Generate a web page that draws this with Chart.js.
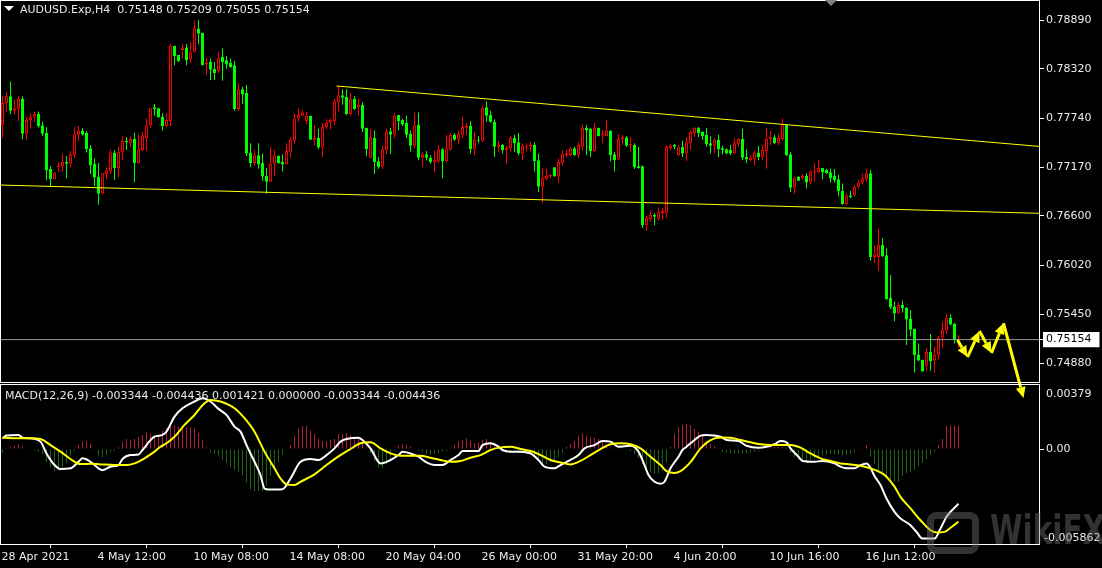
<!DOCTYPE html>
<html>
<head>
<meta charset="utf-8">
<title>AUDUSD.Exp H4</title>
<script src="https://cdn.jsdelivr.net/npm/chart.js@4.4.1/dist/chart.umd.min.js"></script>
<style>
  html, body { margin: 0; padding: 0; background: #000; }
  body { position: relative; width: 1102px; height: 568px; overflow: hidden; font-family: "DejaVu Sans", sans-serif; }
  canvas { position: absolute; left: 0; }
  #priceChart { top: 0; }
  #macdChart { top: 384px; }
  .txt { position: absolute; color: #e8e8e8; font-size: 11px; line-height: 13px; white-space: pre; z-index: 3; }
  #symbolArrow { position: absolute; left: 4px; top: 6px; width: 0; height: 0; border-left: 5px solid transparent; border-right: 5px solid transparent; border-top: 5px solid #fff; z-index: 3; }
  #shiftMark { position: absolute; left: 825px; top: 0; width: 0; height: 0; border-left: 6px solid transparent; border-right: 6px solid transparent; border-top: 6px solid #808080; z-index: 3; }
  #wmLogo { position: absolute; left: 927px; top: 512px; width: 38px; height: 28px; border: 7px solid rgba(120,120,120,0.42); border-radius: 9px; z-index: 2; }
  #wmText { position: absolute; left: 990px; top: 506px; font: bold 41px "DejaVu Sans", sans-serif; color: rgba(120,120,120,0.42); transform: scaleX(0.72); transform-origin: left top; white-space: pre; z-index: 2; }
</style>
</head>
<body>
<canvas id="priceChart" width="1102" height="410"></canvas>
<canvas id="macdChart" width="1102" height="184"></canvas>
<div id="symbolArrow"></div>
<div class="txt" id="title" style="left:20px; top:3px;"></div>
<div class="txt" id="macdTitle" style="left:5px; top:389px;"></div>
<div id="shiftMark"></div>
<div id="wmLogo"></div>
<div id="wmText">WikiFX</div>
<script>
// ---- data ----
const symbolName = 'AUDUSD.Exp,H4';
const lastQuote = ['0.75148', '0.75209', '0.75055', '0.75154'];   // O H L C of current bar
const macdInfo = ['-0.003344', '-0.004436', '0.001421', '0.000000', '-0.003344', '-0.004436'];

const timeLabels = ['28 Apr 2021', '4 May 12:00', '10 May 08:00', '14 May 08:00', '20 May 04:00',
  '26 May 00:00', '31 May 20:00', '4 Jun 20:00', '10 Jun 16:00', '16 Jun 12:00'];
const timeLabelBars = [0, 24, 48, 72, 96, 120, 144, 168, 192, 216];

const priceTicks = [0.78890, 0.78320, 0.77740, 0.77170, 0.76600, 0.76020, 0.75450, 0.74880];
const lastPrice = 0.75154;
const macdTopLabel = '0.00379';
const macdBottomLabel = '-0.005862';

// [open, high, low, close] per H4 bar
const ohlc = [
  [0.7766,0.7800,0.7751,0.7792],[0.7792,0.7805,0.7782,0.7800],[0.7800,0.7817,0.7779,0.7783],[0.7783,0.7796,0.7779,0.7786],[0.7785,0.7800,0.7771,0.7797],
  [0.7797,0.7800,0.7750,0.7756],[0.7756,0.7776,0.7749,0.7772],[0.7772,0.7780,0.7762,0.7776],[0.7776,0.7782,0.7770,0.7779],[0.7779,0.7782,0.7763,0.7765],
  [0.7766,0.7770,0.7753,0.7756],[0.7757,0.7764,0.7702,0.7713],[0.7715,0.7718,0.7694,0.7703],[0.7703,0.7711,0.7703,0.7711],[0.7717,0.7723,0.7711,0.7719],
  [0.7718,0.7732,0.7712,0.7723],[0.7723,0.7730,0.7704,0.7721],[0.7721,0.7736,0.7717,0.7732],[0.7731,0.7764,0.7728,0.7756],[0.7755,0.7765,0.7748,0.7760],
  [0.7760,0.7763,0.7754,0.7755],[0.7757,0.7759,0.7734,0.7738],[0.7739,0.7743,0.7709,0.7719],[0.7721,0.7727,0.7695,0.7705],[0.7706,0.7722,0.7673,0.7686],
  [0.7686,0.7710,0.7686,0.7710],[0.7709,0.7717,0.7703,0.7713],[0.7712,0.7737,0.7709,0.7734],[0.7734,0.7737,0.7702,0.7716],[0.7716,0.7741,0.7705,0.7735],
  [0.7734,0.7753,0.7725,0.7748],[0.7748,0.7752,0.7737,0.7746],[0.7745,0.7753,0.7741,0.7750],[0.7750,0.7757,0.7699,0.7722],[0.7722,0.7755,0.7721,0.7738],
  [0.7737,0.7758,0.7736,0.7754],[0.7751,0.7774,0.7736,0.7766],[0.7766,0.7786,0.7763,0.7786],[0.7787,0.7791,0.7777,0.7785],[0.7786,0.7786,0.7775,0.7775],
  [0.7776,0.7780,0.7760,0.7765],[0.7765,0.7780,0.7764,0.7772],[0.7771,0.7861,0.7765,0.7859],[0.7859,0.7859,0.7836,0.7847],[0.7848,0.7848,0.7840,0.7841],
  [0.7854,0.7861,0.7844,0.7857],[0.7857,0.7861,0.7836,0.7842],[0.7843,0.7863,0.7839,0.7851],[0.7852,0.7888,0.7851,0.7880],[0.7879,0.7889,0.7861,0.7873],
  [0.7874,0.7874,0.7836,0.7836],[0.7837,0.7845,0.7825,0.7839],[0.7840,0.7844,0.7819,0.7831],[0.7832,0.7840,0.7819,0.7827],[0.7829,0.7852,0.7827,0.7845],
  [0.7846,0.7856,0.7818,0.7840],[0.7842,0.7847,0.7832,0.7837],[0.7839,0.7844,0.7833,0.7834],[0.7836,0.7841,0.7783,0.7785],[0.7785,0.7815,0.7783,0.7808],
  [0.7808,0.7811,0.7791,0.7802],[0.7804,0.7813,0.7730,0.7733],[0.7734,0.7745,0.7717,0.7722],[0.7722,0.7737,0.7719,0.7731],[0.7731,0.7745,0.7715,0.7720],
  [0.7722,0.7733,0.7701,0.7706],[0.7707,0.7716,0.7686,0.7700],[0.7700,0.7741,0.7700,0.7721],[0.7721,0.7737,0.7706,0.7731],[0.7730,0.7731,0.7721,0.7722],
  [0.7723,0.7732,0.7712,0.7720],[0.7720,0.7745,0.7720,0.7736],[0.7735,0.7752,0.7728,0.7749],[0.7748,0.7780,0.7744,0.7774],[0.7774,0.7786,0.7770,0.7778],
  [0.7777,0.7783,0.7777,0.7781],[0.7771,0.7782,0.7767,0.7777],[0.7777,0.7777,0.7749,0.7749],[0.7749,0.7766,0.7743,0.7751],[0.7751,0.7762,0.7738,0.7740],
  [0.7740,0.7769,0.7729,0.7764],[0.7764,0.7773,0.7761,0.7769],[0.7769,0.7774,0.7761,0.7772],[0.7771,0.7796,0.7766,0.7794],[0.7793,0.7812,0.7782,0.7801],
  [0.7801,0.7808,0.7790,0.7798],[0.7799,0.7808,0.7778,0.7779],[0.7779,0.7804,0.7777,0.7797],[0.7797,0.7800,0.7784,0.7785],[0.7787,0.7797,0.7777,0.7790],
  [0.7790,0.7793,0.7758,0.7762],[0.7763,0.7763,0.7730,0.7738],[0.7728,0.7762,0.7727,0.7752],[0.7751,0.7760,0.7709,0.7723],[0.7724,0.7729,0.7715,0.7717],
  [0.7718,0.7742,0.7715,0.7738],[0.7737,0.7762,0.7732,0.7759],[0.7759,0.7763,0.7732,0.7755],[0.7755,0.7780,0.7751,0.7777],[0.7778,0.7778,0.7760,0.7771],
  [0.7772,0.7774,0.7765,0.7767],[0.7769,0.7777,0.7751,0.7755],[0.7756,0.7760,0.7735,0.7742],[0.7742,0.7781,0.7739,0.7766],[0.7767,0.7781,0.7725,0.7728],
  [0.7728,0.7735,0.7717,0.7732],[0.7732,0.7736,0.7725,0.7728],[0.7728,0.7731,0.7721,0.7723],[0.7723,0.7736,0.7711,0.7725],[0.7724,0.7743,0.7722,0.7738],
  [0.7738,0.7739,0.7704,0.7724],[0.7724,0.7755,0.7723,0.7739],[0.7738,0.7757,0.7736,0.7755],[0.7755,0.7757,0.7748,0.7749],[0.7749,0.7760,0.7744,0.7756],
  [0.7755,0.7776,0.7751,0.7764],[0.7763,0.7769,0.7755,0.7765],[0.7765,0.7771,0.7733,0.7738],[0.7738,0.7758,0.7731,0.7749],[0.7749,0.7753,0.7745,0.7748],
  [0.7748,0.7789,0.7746,0.7786],[0.7787,0.7794,0.7770,0.7777],[0.7778,0.7783,0.7769,0.7770],[0.7770,0.7773,0.7729,0.7741],[0.7741,0.7748,0.7735,0.7743],
  [0.7743,0.7744,0.7733,0.7737],[0.7737,0.7742,0.7721,0.7739],[0.7739,0.7753,0.7735,0.7751],[0.7751,0.7755,0.7735,0.7745],[0.7746,0.7757,0.7731,0.7733],
  [0.7733,0.7745,0.7725,0.7742],[0.7741,0.7745,0.7735,0.7742],[0.7741,0.7746,0.7735,0.7743],[0.7743,0.7746,0.7712,0.7724],[0.7725,0.7733,0.7688,0.7694],
  [0.7694,0.7715,0.7675,0.7704],[0.7703,0.7715,0.7702,0.7707],[0.7706,0.7708,0.7704,0.7708],[0.7717,0.7717,0.7706,0.7706],[0.7706,0.7727,0.7699,0.7723],
  [0.7722,0.7737,0.7719,0.7732],[0.7731,0.7737,0.7728,0.7733],[0.7731,0.7741,0.7730,0.7739],[0.7739,0.7741,0.7730,0.7731],[0.7731,0.7746,0.7728,0.7743],
  [0.7741,0.7767,0.7736,0.7763],[0.7763,0.7766,0.7731,0.7760],[0.7762,0.7763,0.7729,0.7736],[0.7736,0.7769,0.7735,0.7763],[0.7763,0.7763,0.7753,0.7753],
  [0.7755,0.7760,0.7745,0.7756],[0.7753,0.7772,0.7753,0.7760],[0.7760,0.7760,0.7724,0.7731],[0.7732,0.7735,0.7712,0.7725],[0.7726,0.7755,0.7725,0.7750],
  [0.7750,0.7755,0.7743,0.7752],[0.7752,0.7753,0.7741,0.7742],[0.7743,0.7752,0.7735,0.7744],[0.7743,0.7745,0.7715,0.7717],[0.7718,0.7741,0.7715,0.7716],
  [0.7718,0.7719,0.7646,0.7649],[0.7649,0.7660,0.7643,0.7658],[0.7656,0.7666,0.7653,0.7661],[0.7661,0.7663,0.7649,0.7659],[0.7656,0.7670,0.7655,0.7665],
  [0.7663,0.7669,0.7655,0.7666],[0.7663,0.7743,0.7658,0.7741],[0.7739,0.7744,0.7737,0.7742],[0.7743,0.7744,0.7738,0.7741],[0.7731,0.7743,0.7730,0.7741],
  [0.7741,0.7748,0.7729,0.7733],[0.7733,0.7752,0.7724,0.7746],[0.7745,0.7760,0.7737,0.7758],[0.7757,0.7764,0.7752,0.7763],[0.7763,0.7764,0.7752,0.7757],
  [0.7758,0.7759,0.7749,0.7753],[0.7755,0.7763,0.7741,0.7744],[0.7745,0.7753,0.7733,0.7742],[0.7742,0.7751,0.7733,0.7749],[0.7749,0.7755,0.7729,0.7738],
  [0.7739,0.7742,0.7732,0.7737],[0.7738,0.7739,0.7732,0.7733],[0.7737,0.7743,0.7731,0.7733],[0.7733,0.7751,0.7732,0.7745],[0.7744,0.7751,0.7741,0.7750],
  [0.7750,0.7762,0.7725,0.7728],[0.7729,0.7738,0.7722,0.7726],[0.7725,0.7731,0.7724,0.7728],[0.7726,0.7736,0.7719,0.7734],[0.7734,0.7742,0.7725,0.7729],
  [0.7729,0.7743,0.7725,0.7737],[0.7736,0.7763,0.7715,0.7750],[0.7750,0.7759,0.7743,0.7752],[0.7752,0.7755,0.7744,0.7745],[0.7745,0.7756,0.7743,0.7751],
  [0.7750,0.7774,0.7748,0.7767],[0.7767,0.7767,0.7730,0.7731],[0.7732,0.7735,0.7688,0.7693],[0.7693,0.7706,0.7686,0.7704],[0.7706,0.7706,0.7701,0.7701],
  [0.7704,0.7709,0.7702,0.7707],[0.7707,0.7710,0.7692,0.7699],[0.7699,0.7714,0.7697,0.7712],[0.7711,0.7722,0.7700,0.7712],[0.7711,0.7725,0.7710,0.7716],
  [0.7716,0.7716,0.7703,0.7711],[0.7714,0.7715,0.7709,0.7710],[0.7711,0.7715,0.7699,0.7704],[0.7707,0.7715,0.7699,0.7702],[0.7703,0.7708,0.7683,0.7689],
  [0.7689,0.7698,0.7673,0.7674],[0.7674,0.7686,0.7673,0.7684],[0.7684,0.7689,0.7681,0.7682],[0.7684,0.7696,0.7683,0.7694],[0.7694,0.7702,0.7693,0.7699],
  [0.7699,0.7709,0.7697,0.7704],[0.7703,0.7715,0.7700,0.7710],[0.7710,0.7714,0.7608,0.7612],[0.7612,0.7626,0.7605,0.7615],[0.7612,0.7645,0.7596,0.7626],
  [0.7626,0.7634,0.7612,0.7613],[0.7614,0.7622,0.7562,0.7563],[0.7564,0.7591,0.7551,0.7553],[0.7554,0.7560,0.7537,0.7546],[0.7546,0.7559,0.7546,0.7556],
  [0.7556,0.7561,0.7547,0.7552],[0.7553,0.7553,0.7509,0.7539],[0.7540,0.7550,0.7519,0.7527],[0.7528,0.7528,0.7477,0.7497],[0.7498,0.7511,0.7490,0.7491],
  [0.7492,0.7492,0.7478,0.7478],[0.7485,0.7506,0.7479,0.7501],[0.7501,0.7522,0.7479,0.7490],[0.7491,0.7507,0.7477,0.7498],[0.7497,0.7520,0.7492,0.7518],
  [0.7518,0.7536,0.7505,0.7527],[0.7526,0.7546,0.7522,0.7541],[0.7541,0.7545,0.7532,0.7533],[0.7534,0.7535,0.7511,0.7515],[0.75148,0.75209,0.75055,0.75154]
];

// trend lines and the drawn forecast path: [bar index, price]
const upperTrend = [[83.5, 0.78119], [259.5, 0.77411]];
const lowerTrend = [[-0.5, 0.76961], [259.5, 0.76630]];
const forecastPath = [[238.75, 0.75149], [241.25, 0.74950], [244.25, 0.75254], [247.25, 0.74997], [250.25, 0.75348], [255.25, 0.74471]];

// MACD histogram, one value per bar
const macdHist = [
  -0.00024,0.00006,0.00012,0.0002,0.00031,0.00016,0.00004,-0.00004,-0.0001,-0.00016,
  -0.00031,-0.00082,-0.00112,-0.00133,-0.00133,-0.00112,-0.00082,-0.00041,-0.0001,0.00024,
  0.00045,0.00051,0.00031,-0.00006,-0.00045,-0.00051,-0.00037,-0.00016,-0.0001,0.0001,
  0.00041,0.00061,0.00057,0.00061,0.00073,0.00086,0.00102,0.00092,0.00071,0.00082,
  0.00112,0.00133,0.00139,0.00147,0.00139,0.00126,0.00135,0.00131,0.00126,0.00098,
  0.00057,0.0001,-0.00016,-0.00029,-0.00045,-0.00065,-0.00086,-0.00112,-0.00126,-0.00139,
  -0.00163,-0.00204,-0.00245,-0.00257,-0.00257,-0.00257,-0.00224,-0.00163,-0.00118,-0.00082,
  -0.00037,-0.00004,0.00024,0.00082,0.00126,0.00139,0.00139,0.00112,0.00092,0.00061,
  0.00049,0.00045,0.00057,0.00061,0.00092,0.00092,0.00098,0.00082,0.00071,0.00061,
  0.00041,0.0001,-0.00024,-0.00071,-0.00112,-0.00118,-0.00092,-0.00051,-0.0001,0.0002,
  0.00031,0.00024,0.00016,0.00004,-0.0001,-0.0002,-0.00031,-0.00037,-0.00031,-0.00024,
  -0.00016,-0.0001,0.00006,0.00024,0.00045,0.00057,0.00065,0.00051,0.00037,0.00041,
  0.00057,0.00061,0.00045,0.00016,-0.00006,-0.00016,-0.0002,-0.00024,-0.0002,-0.0002,
  -0.00024,-0.00031,-0.00037,-0.00051,-0.00071,-0.00086,-0.00092,-0.00082,-0.00071,-0.00051,
  -0.00024,0.00016,0.00031,0.00051,0.00082,0.00096,0.00082,0.00071,0.00071,0.00061,
  0.00051,0.00031,0.0001,-0.00006,-0.00006,-0.00006,-0.00006,-0.0001,-0.00031,-0.00057,
  -0.00092,-0.00118,-0.00139,-0.00153,-0.00147,-0.00133,-0.00082,0.00016,0.00092,0.00133,
  0.00147,0.00153,0.00147,0.00126,0.00106,0.00086,0.00051,0.00031,0.0002,0.00006,
  -0.00016,-0.0002,-0.00024,-0.00024,-0.00024,-0.00027,-0.00024,-0.0002,-0.00016,-0.00012,
  -0.00006,0.00004,0.0001,0.00012,0.00014,0.00012,0.00006,-0.00024,-0.00047,-0.00065,
  -0.00073,-0.00078,-0.00069,-0.00057,-0.00049,-0.00041,-0.00033,-0.00029,-0.00033,-0.00037,
  -0.00041,-0.00037,-0.00029,-0.00016,-0.00004,0.00006,0.00024,-0.00045,-0.00092,-0.00133,
  -0.00159,-0.00175,-0.00184,-0.00198,-0.002,-0.00167,-0.00147,-0.00139,-0.00126,-0.00106,
  -0.00086,-0.00061,-0.00037,-0.00016,0.00024,0.00061,0.00143,0.00143,0.00143,0.001421
];

// MACD main (white) and signal (yellow), sampled as [bar index, value]
const macdMain = [
  [0,0.00065],[1,0.00082],[4,0.00086],[5,0.00069],[7,0.00065],[9.5,0.00045],[11,-0.00027],[13,-0.00098],[14.5,-0.00122],[17,-0.00118],
  [19,-0.00078],[20,-0.00057],[22,-0.00078],[24,-0.00118],[25,-0.00129],[27,-0.00108],[29,-0.00098],[30,-0.00061],[32,-0.00037],[34,-0.00033],
  [35,-0.00006],[38,0.00075],[40,0.00086],[41,0.00106],[43,0.00198],[45,0.00249],[48,0.0029],[50,0.0031],[52,0.0029],[54,0.00245],
  [56,0.00208],[58,0.00137],[59.5,0.00106],[61,0.00024],[63,-0.00078],[64.5,-0.00159],[65.5,-0.00241],[66.5,-0.00247],[70,-0.00245],[72,-0.0018],
  [74.5,-0.00078],[77,-0.00061],[79,-0.00067],[81,-0.00037],[83,0.00004],[84.5,0.00045],[86,0.00061],[89,0.00069],[90,0.00055],[92,0.00004],
  [94.5,-0.00088],[97,-0.00067],[99,-0.00037],[100,-0.00016],[102,-0.00027],[104,-0.00047],[106,-0.00082],[108,-0.00098],[110,-0.00098],[112,-0.00067],
  [114,-0.00037],[115,-0.00012],[119,-0.00012],[120,0.00024],[122,0.00035],[124,0.00014],[125,-0.00006],[127,-0.00016],[129.5,-0.00016],[132,-0.00027],
  [134,-0.00067],[135.5,-0.00108],[138,-0.00118],[139.5,-0.00098],[142,-0.00067],[144,-0.00037],[145.5,0.00004],[148,0.00024],[150,0.00049],[152,0.00045],
  [154,0.00014],[157,0.0002],[159,-0.00016],[160.5,-0.00098],[161.5,-0.00159],[163,-0.002],[164.5,-0.00212],[165.5,-0.002],[167,-0.00118],[169,-0.00047],
  [170,-0.00006],[171,0.00014],[173,0.00055],[174.5,0.00082],[176,0.00086],[178,0.00082],[179.5,0.00075],[181,0.00055],[184,0.00049],[186,0.0002],
  [189,0.00008],[191,0.00014],[193,0.00029],[194.5,0.00049],[196,0.00041],[197,0.00004],[199,-0.00047],[200,-0.00073],[203,-0.00078],[205,-0.00073],
  [208,-0.00088],[209.5,-0.00108],[211,-0.00118],[213,-0.00118],[214.5,-0.00098],[216,-0.00088],[217,-0.00115],[218,-0.00165],[219.5,-0.0022],[221,-0.00302],
  [223,-0.00384],[224.5,-0.00424],[227,-0.00465],[228.5,-0.00506],[230,-0.00547],[233,-0.00547],[234.5,-0.00486],[236,-0.00414],[239,-0.00334]
];
const macdSignal = [
  [0,0.00069],[4,0.00065],[7,0.00065],[9.5,0.00061],[12,0.00024],[14.5,-0.00016],[17,-0.00061],[19.5,-0.00092],[22,-0.0009],[24.5,-0.00094],
  [28,-0.00098],[31,-0.00098],[33,-0.00088],[35.5,-0.00057],[38,-0.00016],[39.5,0.00014],[41,0.00035],[43,0.00075],[45.5,0.00147],[48,0.00208],
  [50.5,0.0028],[52,0.003],[54.5,0.0029],[58,0.00249],[60.5,0.00188],[63,0.00106],[65.5,-0.00016],[68,-0.00118],[69.5,-0.0018],[71,-0.00216],
  [73,-0.0022],[74.5,-0.002],[78,-0.00155],[81,-0.00098],[84,-0.00045],[87,0],[89.5,0.00035],[92,0.00041],[94.5,0.00004],[97,-0.00027],
  [99.5,-0.00041],[104.5,-0.00041],[107,-0.00053],[109.5,-0.00067],[112,-0.00078],[114.5,-0.00073],[117,-0.00053],[119.5,-0.00037],[122,-0.00006],[124.5,0.0001],
  [127,0.00014],[129.5,0],[132,-0.00012],[134.5,-0.00037],[137,-0.00067],[139.5,-0.00082],[142,-0.00094],[144.5,-0.00073],[147,-0.00037],[149.5,0],
  [152,0.00029],[154.5,0.00035],[157,0.00029],[159.5,0.00004],[162,-0.00047],[164.5,-0.00098],[166,-0.00135],[168,-0.00147],[169.5,-0.00135],[172,-0.0008],
  [174.5,0.00004],[177,0.00055],[179.5,0.00071],[182,0.00069],[184.5,0.00055],[187,0.00041],[189.5,0.00029],[192,0.00024],[197,0.00024],[199.5,0.00008],
  [202,-0.00027],[204.5,-0.00057],[207,-0.00073],[209.5,-0.00088],[212,-0.00094],[214.5,-0.00102],[217,-0.00118],[219.5,-0.00143],[221,-0.00169],[223,-0.0023],
  [224.5,-0.00292],[227,-0.00363],[229.5,-0.00435],[232,-0.00496],[233.5,-0.0051],[235.5,-0.00506],[237,-0.00481],[239,-0.00444]
];

// ---- layout / style ----
const RED = '#ff0000', GREEN = '#00ff00', YELLOW = '#ffff00';
const HIST_UP = '#b01e3a', HIST_DOWN = '#1e6414';
const AXIS_TEXT = '#ececec';
const FONT = { family: 'DejaVu Sans', size: 11 };
const BAR_PX = 4, AREA_W = 1040, AXIS_W = 62;
const X_MIN = -0.625, X_MAX = X_MIN + AREA_W / BAR_PX;
const PRICE_MAX = 0.79124, PRICE_MIN = 0.74647;
const MACD_MAX = 0.00397, MACD_MIN = -0.005862;

document.getElementById('title').textContent = symbolName + '  ' + lastQuote.join(' ');
document.getElementById('macdTitle').textContent = 'MACD(12,26,9) ' + macdInfo.join(' ');

const isUp = ohlc.map(c => c[3] >= c[0]);
const candleColor = isUp.map(u => u ? RED : GREEN);

const framePlugin = {
  id: 'frame',
  afterDraw(chart) {
    const { ctx, chartArea: a } = chart;
    ctx.save();
    ctx.strokeStyle = '#ffffff';
    ctx.lineWidth = 1;
    ctx.strokeRect(a.left + 0.5, a.top + 0.5, a.width - 1, a.height - 1);
    ctx.restore();
  }
};

// yellow hand-drawn style arrows for the forecast
const forecastPlugin = {
  id: 'forecast',
  afterDatasetsDraw(chart) {
    const { ctx, scales } = chart;
    const pts = forecastPath.map(p => [scales.x.getPixelForValue(p[0]), scales.y.getPixelForValue(p[1])]);
    ctx.save();
    ctx.fillStyle = YELLOW;
    ctx.strokeStyle = YELLOW;
    ctx.lineWidth = 3;
    for (let i = 1; i < pts.length; i++) {
      const [x0, y0] = pts[i - 1], [x1, y1] = pts[i];
      const ang = Math.atan2(y1 - y0, x1 - x0);
      const head = 11, half = 5;
      const bx = x1 - head * Math.cos(ang), by = y1 - head * Math.sin(ang);
      ctx.beginPath();
      ctx.moveTo(x0, y0);
      ctx.lineTo(bx, by);
      ctx.stroke();
      ctx.beginPath();
      ctx.moveTo(x1, y1);
      ctx.lineTo(bx + half * Math.sin(ang), by - half * Math.cos(ang));
      ctx.lineTo(bx - half * Math.sin(ang), by + half * Math.cos(ang));
      ctx.closePath();
      ctx.fill();
    }
    ctx.restore();
  }
};

const macdEdgeLabels = {
  id: 'macdEdgeLabels',
  afterDraw(chart) {
    const { ctx, chartArea: a } = chart;
    ctx.save();
    ctx.font = '11px "DejaVu Sans"';
    ctx.fillStyle = AXIS_TEXT;
    ctx.textBaseline = 'middle';
    ctx.textAlign = 'left';
    ctx.fillText(macdTopLabel, a.right + 6, a.top + 10);
    ctx.fillText(macdBottomLabel, a.right + 4, a.bottom - 7);
    ctx.restore();
  }
};

const fixYAxis = scale => { scale.width = AXIS_W; scale.paddingTop = 0; scale.paddingBottom = 0; };

new Chart(document.getElementById('priceChart'), {
  type: 'bar',
  data: {
    datasets: [
      {
        label: 'wicks',
        data: ohlc.map((c, i) => ({ x: i, y: [c[2], c[1]] })),
        backgroundColor: candleColor,
        barThickness: 1,
        grouped: false,
        inflateAmount: 0,
        minBarLength: 1,
        order: 3
      },
      {
        label: 'bodies',
        data: ohlc.map((c, i) => ({ x: i, y: [Math.min(c[0], c[3]), Math.max(c[0], c[3])] })),
        backgroundColor: isUp.map(u => u ? '#000000' : GREEN),
        borderColor: candleColor,
        borderWidth: 1,
        borderSkipped: false,
        barThickness: 3,
        grouped: false,
        inflateAmount: 0,
        minBarLength: 1,
        order: 2
      },
      {
        type: 'line', label: 'upper trend',
        data: upperTrend.map(p => ({ x: p[0], y: p[1] })),
        borderColor: YELLOW, borderWidth: 1, pointRadius: 0, order: 1
      },
      {
        type: 'line', label: 'lower trend',
        data: lowerTrend.map(p => ({ x: p[0], y: p[1] })),
        borderColor: YELLOW, borderWidth: 1, pointRadius: 0, order: 1
      },
      {
        type: 'line', label: 'bid',
        data: [{ x: X_MIN, y: lastPrice }, { x: X_MAX, y: lastPrice }],
        borderColor: '#9a9a9a', borderWidth: 1, pointRadius: 0, order: 1
      }
    ]
  },
  options: {
    responsive: false,
    animation: false,
    devicePixelRatio: 1,
    layout: { padding: { left: 0, right: 0, top: 0, bottom: 27 } },
    plugins: { legend: { display: false }, tooltip: { enabled: false } },
    scales: {
      x: { type: 'linear', min: X_MIN, max: X_MAX, offset: false, display: false },
      y: {
        type: 'linear',
        position: 'right',
        min: PRICE_MIN,
        max: PRICE_MAX,
        afterBuildTicks: scale => { scale.ticks = priceTicks.concat([lastPrice]).map(v => ({ value: v })); },
        afterFit: fixYAxis,
        border: { display: false },
        grid: { drawOnChartArea: false, drawTicks: true, tickLength: 4, color: '#ffffff' },
        ticks: {
          autoSkip: false,
          padding: 2,
          font: FONT,
          color: ctx => ctx.tick && ctx.tick.value === lastPrice ? '#000000' : AXIS_TEXT,
          showLabelBackdrop: ctx => !!(ctx.tick && ctx.tick.value === lastPrice),
          backdropColor: '#ffffff',
          backdropPadding: { left: 3, right: 8, top: 1, bottom: 1 },
          callback: v => v.toFixed(5)
        }
      }
    }
  },
  plugins: [framePlugin, forecastPlugin]
});

new Chart(document.getElementById('macdChart'), {
  type: 'bar',
  data: {
    datasets: [
      {
        label: 'histogram',
        data: macdHist.map((v, i) => ({ x: i, y: v })),
        backgroundColor: macdHist.map(v => v >= 0 ? HIST_UP : HIST_DOWN),
        barThickness: 1,
        grouped: false,
        inflateAmount: 0,
        order: 3
      },
      {
        type: 'line', label: 'MACD',
        data: macdMain.map(p => ({ x: p[0], y: p[1] })),
        borderColor: '#ffffff', borderWidth: 2, pointRadius: 0,
        cubicInterpolationMode: 'monotone', order: 2
      },
      {
        type: 'line', label: 'Signal',
        data: macdSignal.map(p => ({ x: p[0], y: p[1] })),
        borderColor: YELLOW, borderWidth: 2, pointRadius: 0,
        cubicInterpolationMode: 'monotone', order: 1
      }
    ]
  },
  options: {
    responsive: false,
    animation: false,
    devicePixelRatio: 1,
    layout: { padding: 0 },
    plugins: { legend: { display: false }, tooltip: { enabled: false } },
    scales: {
      x: {
        type: 'linear',
        min: X_MIN,
        max: X_MAX,
        offset: false,
        afterBuildTicks: scale => { scale.ticks = timeLabelBars.map(v => ({ value: v })); },
        afterFit: scale => { scale.height = 23; scale.paddingLeft = 0; scale.paddingRight = 0; },
        border: { display: false },
        grid: { drawOnChartArea: false, drawTicks: true, tickLength: 3, color: '#ffffff' },
        ticks: {
          autoSkip: false,
          maxRotation: 0,
          align: 'start',
          padding: 3,
          labelOffset: -1,
          font: FONT,
          color: AXIS_TEXT,
          callback: (v, i) => timeLabels[i]
        }
      },
      y: {
        type: 'linear',
        position: 'right',
        min: MACD_MIN,
        max: MACD_MAX,
        afterBuildTicks: scale => { scale.ticks = [{ value: 0 }]; },
        afterFit: fixYAxis,
        border: { display: false },
        grid: { drawOnChartArea: false, drawTicks: true, tickLength: 4, color: '#ffffff' },
        ticks: { padding: 2, font: FONT, color: AXIS_TEXT, callback: () => '0.00' }
      }
    }
  },
  plugins: [framePlugin, macdEdgeLabels]
});
</script>
</body>
</html>
